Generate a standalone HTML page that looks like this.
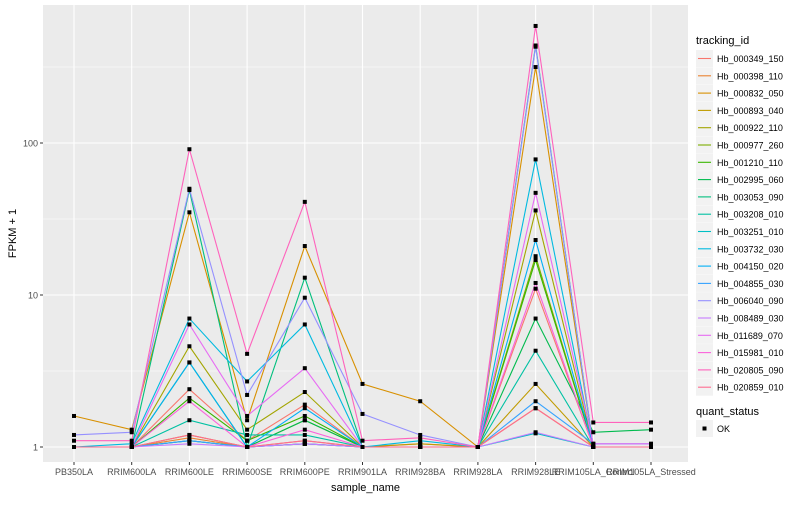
<!DOCTYPE html>
<html><head><meta charset="utf-8"><style>
body{margin:0;background:#fff;font-family:"Liberation Sans",sans-serif;}
svg text{font-family:"Liberation Sans",sans-serif;}
</style></head><body>
<svg id="c" width="800" height="500" xmlns="http://www.w3.org/2000/svg"></svg>
<script>
const categories=["PB350LA","RRIM600LA","RRIM600LE","RRIM600SE","RRIM600PE","RRIM901LA","RRIM928BA","RRIM928LA","RRIM928LE","RRIM105LA_Control","RRIM105LA_Stressed"];
const seriesNames=["Hb_000349_150","Hb_000398_110","Hb_000832_050","Hb_000893_040","Hb_000922_110","Hb_000977_260","Hb_001210_110","Hb_002995_060","Hb_003053_090","Hb_003208_010","Hb_003251_010","Hb_003732_030","Hb_004150_020","Hb_004855_030","Hb_006040_090","Hb_008489_030","Hb_011689_070","Hb_015981_010","Hb_020805_090","Hb_020859_010"];
const seriesColors=["#F8766D","#EA8331","#D89000","#C09B00","#A3A500","#7CAE00","#39B600","#00BB4E","#00BF7D","#00C1A3","#00BFC4","#00BAE0","#00B0F6","#35A2FF","#9590FF","#C77CFF","#E76BF3","#FA62DB","#FF62BC","#FF6C91"];
const s0=[1,1,2.4,1.1,1.9,1,1.05,1,11,1,1];
const s1=[1,1,1.15,1,1.1,1,1,1,1.8,1,1];
const s2=[1.6,1.3,35,1.5,21,2.6,2,1,316,1,1];
const s3=[1,1,1.2,1,1.05,1,1.05,1,2.6,1,1];
const s4=[1,1,4.6,1.3,2.3,1,1,1,36,1,1];
const s5=[1,1,1.1,1,1.5,1,1,1,18,1,1];
const s6=[1,1,2.1,1.1,1.6,1,1,1,17,1,1];
const s7=[1,1,3.6,1,1.5,1,1,1,7,1.25,1.3];
const s8=[1,1,49,1,13,1,1,1,438,1,1];
const s9=[1,1,1.5,1.2,1.2,1,1,1,4.3,1,1];
const s10=[1,1,1.1,1,1.05,1,1,1,1.23,1,1];
const s11=[1,1.05,7,2.7,6.4,1,1.1,1,78,1,1];
const s12=[1,1,3.6,1,1.8,1,1,1,23,1,1];
const s13=[1,1,1.1,1,1.05,1,1,1,2,1.05,1.05];
const s14=[1.2,1.25,50,2.2,9.6,1.65,1.2,1,430,1,1];
const s15=[1,1,1.05,1,1.05,1,1,1,1.25,1,1];
const s16=[1,1,6.4,1.6,3.3,1,1,1,47,1.05,1.05];
const s17=[1,1,2,1,1.3,1,1,1,12,1,1];
const s18=[1.1,1.1,91,4.1,41,1.1,1.15,1,589,1.45,1.45];
const s19=[1,1,1.2,1,1.1,1,1,1,1.8,1,1];
const seriesValues=[s0,s1,s2,s3,s4,s5,s6,s7,s8,s9,s10,s11,s12,s13,s14,s15,s16,s17,s18,s19];
const yTicks=[1,10,100];
const yMinor=[Math.sqrt(10),Math.sqrt(1000),Math.sqrt(100000)];

const NS="http://www.w3.org/2000/svg";
const svg=document.getElementById('c');
function mk(tag,attrs,parent){const e=document.createElementNS(NS,tag);for(const k in attrs)e.setAttribute(k,attrs[k]);(parent||svg).appendChild(e);return e;}
const PL=43,PR=688,PT=5,PB=462;
function xS(i){return 74+i*57.7;}
function yS(v){return 447-152*Math.log10(v);}

const panel=mk('rect',{x:PL,y:PT,width:PR-PL,height:PB-PT,fill:'#EBEBEB'});


yMinor.forEach(v=>{const y=yS(v);if(y>PT){const l=mk('line',{x1:PL,x2:PR,y1:y,y2:y,stroke:'#fff','stroke-width':0.5});}});
yTicks.forEach(v=>{const y=yS(v);
 const l=mk('line',{x1:PL,x2:PR,y1:y,y2:y,stroke:'#fff','stroke-width':1.1});
 
 const t=mk('text',{x:PL-5,y:y+3.5,'text-anchor':'end','font-size':9,fill:'#4D4D4D'});t.textContent=String(v);
 
 mk('line',{x1:PL-3,x2:PL,y1:y,y2:y,stroke:'#333'});
});
categories.forEach((c,i)=>{const x=xS(i);
 const l=mk('line',{x1:x,x2:x,y1:PT,y2:PB,stroke:'#fff','stroke-width':1.1});
 
 mk('line',{x1:x,x2:x,y1:PB,y2:PB+3,stroke:'#333'});
 const t=mk('text',{x:x,y:PB+13,'text-anchor':'middle','font-size':9,fill:'#4D4D4D'});t.textContent=c;
 
});
seriesValues.forEach((vals,si)=>{
 const p=mk('polyline',{points:vals.map((v,i)=>xS(i)+','+yS(v)).join(' '),fill:'none',stroke:seriesColors[si],'stroke-width':1.1});
 
});
seriesValues.forEach((vals)=>{vals.forEach((v,i)=>{
 const r=mk('rect',{x:xS(i)-2,y:yS(v)-2,width:4,height:4,fill:'#000'});
 
});});
const xt=mk('text',{x:(PL+PR)/2,y:491,'text-anchor':'middle','font-size':11,fill:'#000'});xt.textContent='sample_name';

const yt=mk('text',{x:16,y:(PT+PB)/2,'text-anchor':'middle','font-size':11,fill:'#000',transform:'rotate(-90 16 '+((PT+PB)/2)+')'});yt.textContent='FPKM + 1';


const lt=mk('text',{x:696,y:44,'font-size':11,fill:'#000'});lt.textContent='tracking_id';

seriesNames.forEach((n,i)=>{const y=50+i*17.3;
 const g=mk('g',{});
 mk('rect',{x:696,y:y,width:17,height:17,fill:'#F2F2F2'},g);
 mk('line',{x1:698,x2:711,y1:y+8.5,y2:y+8.5,stroke:seriesColors[i],'stroke-width':1.1},g);
 const t=mk('text',{x:717,y:y+12,'font-size':9,fill:'#000'},g);t.textContent=n;
});
const qt=mk('text',{x:696,y:415,'font-size':11,fill:'#000'});qt.textContent='quant_status';

const qg=mk('g',{});
mk('rect',{x:696,y:420,width:17,height:17,fill:'#F2F2F2'},qg);
mk('rect',{x:702.5,y:426.5,width:4,height:4,fill:'#000'},qg);
const ot=mk('text',{x:717,y:432,'font-size':9,fill:'#000'},qg);ot.textContent='OK';
</script>
</body></html>
